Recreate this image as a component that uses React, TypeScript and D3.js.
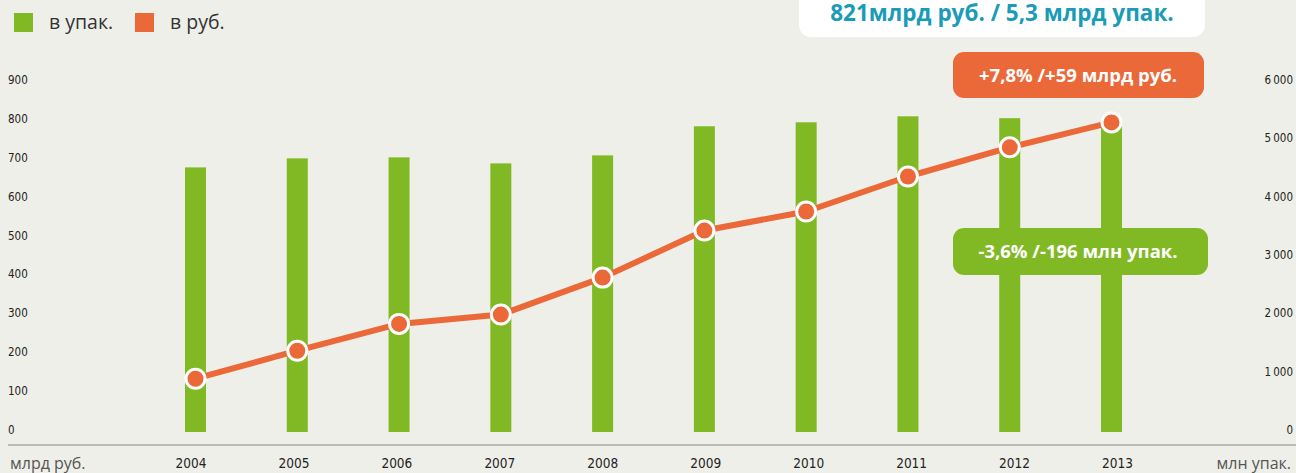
import React from "react";
import * as d3 from "d3";

const years = ["2004", "2005", "2006", "2007", "2008", "2009", "2010", "2011", "2012", "2013"];
const packs = [4536, 4691, 4708, 4605, 4742, 5241, 5309, 5412, 5380, 5285]; // млн упак.
const rub = [137, 209, 278, 302, 397, 518, 567, 657, 732, 796]; // млрд руб.
const leftTicks = [0, 100, 200, 300, 400, 500, 600, 700, 800, 900];
const rightTicks = [0, 1000, 2000, 3000, 4000, 5000, 6000];
const legendItems = [
  { label: "в упак.", color: "#80b924" },
  { label: "в руб.", color: "#eb6839" },
];

const W = 1296;
const H = 473;
const GREEN = "#80b924";
const ORANGE = "#eb6839";
const TEAL = "#1a9bb8";
const BG = "#efefe9";
const COND = "'DejaVu Sans Condensed', 'Liberation Sans Narrow', 'Open Sans', sans-serif";
const SANS = "'Open Sans', 'Noto Sans', sans-serif";

export default function App() {
  const x = d3.scalePoint<string>().domain(years).range([195.5, 1111.5]);
  const xLab = d3.scalePoint<string>().domain(years).range([191, 1117.5]);
  const yL = d3.scaleLinear().domain([0, 900]).range([432, 82]);
  const yR = d3.scaleLinear().domain([0, 6000]).range([432, 82]);
  const barW = 21;

  const line = d3
    .line<number>()
    .x((_, i) => x(years[i]) as number)
    .y((d) => yL(d));

  const fmtR = (v: number) => (v >= 1000 ? d3.format(",")(v).replace(/,/g, "\u2009") : String(v));

  return (
    <svg
      width={W}
      height={H}
      style={{ position: "absolute", left: 0, top: 0, display: "block" }}
    >
      <rect x={0} y={0} width={W} height={H} fill={BG} />
      <text x={6} y={-5} fontFamily={SANS} fontWeight={700} fontSize={22} fill="#111">
        Динамика розничного фармацевтического рынка
      </text>

      {/* legend */}
      {legendItems.map((it, i) => {
        const lx = i === 0 ? 14 : 135;
        return (
          <g key={it.label}>
            <rect x={lx} y={13} width={19} height={19} fill={it.color} />
            <text x={lx + 35} y={29} fontFamily={SANS} fontSize={19.5} fill="#333">
              {it.label}
            </text>
          </g>
        );
      })}

      {/* top info box */}
      <rect x={799} y={-12} width={406} height={49} rx={12} fill="#ffffff" />
      <text x={1002} y={21} textAnchor="middle" fontFamily={SANS} fontWeight={700} fontSize={22.5} fill={TEAL}>
        821млрд руб. / 5,3 млрд упак.
      </text>

      {/* left ticks */}
      {leftTicks.map((t) => (
        <text key={"l" + t} x={8} y={yL(t) + 2} fontFamily={COND} fontSize={11.5} fill="#222">
          {t}
        </text>
      ))}
      {/* right ticks */}
      {rightTicks.map((t) => (
        <text key={"r" + t} x={1293} y={yR(t) + 2} textAnchor="end" fontFamily={COND} fontSize={11.5} fill="#222">
          {fmtR(t)}
        </text>
      ))}

      {/* bars */}
      {packs.map((v, i) => (
        <rect
          key={"b" + i}
          x={(x(years[i]) as number) - barW / 2}
          y={yR(v)}
          width={barW}
          height={yR(0) - yR(v)}
          fill={GREEN}
        />
      ))}

      {/* line */}
      <path d={line(rub) || ""} fill="none" stroke={ORANGE} strokeWidth={6} strokeLinejoin="round" />
      {rub.map((v, i) => (
        <circle
          key={"c" + i}
          cx={x(years[i]) as number}
          cy={yL(v)}
          r={9.5}
          fill={ORANGE}
          stroke="#fff"
          strokeWidth={3}
        />
      ))}

      {/* callouts */}
      <rect x={953} y={52} width={251} height={46} rx={11} fill={ORANGE} />
      <text x={1078} y={82} textAnchor="middle" fontFamily={SANS} fontWeight={700} fontSize={18.5} fill="#fff">
        +7,8% /+59 млрд руб.
      </text>
      <rect x={953} y={228} width={255} height={47} rx={11} fill={GREEN} />
      <text x={1078} y={258} textAnchor="middle" fontFamily={SANS} fontWeight={700} fontSize={18.5} fill="#fff">
        -3,6% /-196 млн упак.
      </text>

      {/* axis line */}
      <line x1={8} x2={W} y1={445} y2={445} stroke="#a9a9a3" strokeWidth={1.5} />

      {/* year labels */}
      {years.map((y) => (
        <text key={"y" + y} x={xLab(y) as number} y={468} textAnchor="middle" fontFamily={COND} fontSize={13.5} fill="#222">
          {y}
        </text>
      ))}
      <text x={10} y={469} fontFamily={SANS} fontSize={16} fill="#555">
        млрд руб.
      </text>
      <text x={1291} y={469} textAnchor="end" fontFamily={SANS} fontSize={16} fill="#555">
        млн упак.
      </text>
    </svg>
  );
}
